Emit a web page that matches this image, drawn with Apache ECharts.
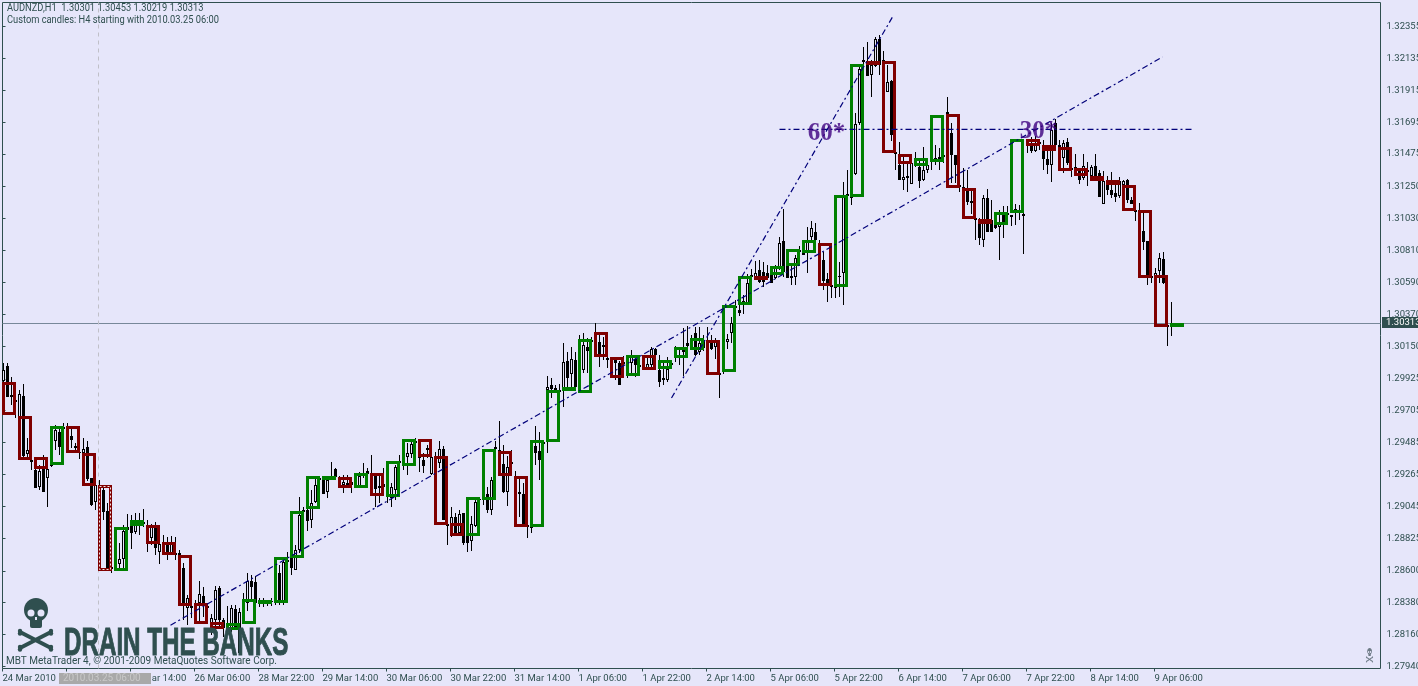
<!DOCTYPE html>
<html>
<head>
<meta charset="utf-8">
<title>AUDNZD,H1</title>
<style>
  html, body { margin: 0; padding: 0; background: #e6e6fa; }
  #chart { width: 1418px; height: 686px; }
</style>
</head>
<body>
<div id="chart"></div>
<script src="https://cdn.jsdelivr.net/npm/echarts@6/dist/echarts.min.js"></script>
<script>
// all prices are kept in 1e-5 units (130313 is 1.30313)
const h1Open = [
129909,130013,129813,129778,129612,129806,129405,129364,129295,129178,129302,129240,129323,129495,129557,129592,
129599,129530,129461,129419,129412,129454,129240,129074,129185,129157,129012,128626,128633,128646,128681,128881,
128950,128867,128950,128936,128902,128826,128902,128729,128777,128784,128722,128722,128722,128619,128343,128357,
128370,128377,128426,128357,128239,128260,128481,128260,128226,128205,128336,128032,128391,128377,128529,128522,
128398,128398,128391,128391,128398,128584,128384,128674,128695,128605,128743,129019,129019,128950,129074,129240,
129226,129143,129254,129302,129233,129191,129205,129212,129226,129185,129274,129288,129274,129254,129185,129198,
129129,129102,129157,129357,129336,129385,129405,129495,129392,129364,129447,129267,129392,129343,129440,128922,
128853,128971,128860,128998,128916,128805,128909,129095,129109,129129,129019,129454,129433,129336,129143,129350,
129254,129143,129129,128916,128902,129461,129426,129488,129847,129881,129861,129847,129861,130047,129957,130054,
130157,129985,130144,130192,130240,130178,130157,130068,130061,130054,130033,130040,130054,130033,130061,130020,
130054,129999,130020,130130,129985,129930,129916,130033,130075,130082,130123,130171,130178,130240,130109,130192,
130192,130178,130144,129964,129999,130178,130240,130427,130399,130433,130447,130640,130620,130675,130661,130654,
130661,130620,130689,130875,130709,130634,130627,130813,130813,130806,130903,130937,130861,130744,130613,130571,
130565,130634,130654,131199,131186,131337,131689,132124,132103,132021,132083,132269,132124,131903,131979,131489,
131400,131296,131324,131268,131434,131386,131296,131365,131434,131448,131455,131469,131765,131620,131469,131262,
131248,131241,131151,131034,130999,130882,131172,131020,130985,130972,131061,131068,131054,131096,131089,131061,
131565,131551,131496,131558,131524,131441,131400,131689,131538,131448,131558,131379,131386,131365,131310,131365,
131324,131393,131344,131130,131262,131227,131206,131186,131262,131296,131158,131089,131089,130944,130875,130634,
130627,130668,130751,130295,130301
];
const h1High = [
130033,130033,129937,129888,129847,129888,129516,129378,129323,129330,129399,129350,129350,129605,129585,129619,
129619,129599,129481,129433,129516,129495,129240,129226,129226,129185,129067,128674,128812,128791,128916,128991,
128985,128998,128998,129026,128950,128922,128936,128812,128846,128833,128840,128833,128743,128653,128433,128398,
128398,128529,128488,128377,128301,128495,128495,128274,128357,128364,128364,128343,128446,128584,128570,128564,
128412,128412,128398,128412,128433,128639,128674,128729,128709,128777,129109,129040,129053,129157,129254,129254,
129254,129240,129350,129309,129254,129261,129261,129247,129261,129281,129343,129309,129399,129274,129267,129309,
129157,129205,129330,129399,129378,129481,129488,129516,129433,129412,129468,129399,129419,129495,129461,128950,
129040,128998,129019,128998,128929,128977,129102,129109,129171,129178,129247,129495,129633,129468,129392,129433,
129288,129247,129205,128950,128916,129599,129557,129502,129944,129930,129881,129888,130171,130109,130144,130109,
130226,130240,130206,130213,130309,130247,130213,130075,130075,130068,130047,130082,130089,130123,130089,130082,
130089,130089,130144,130137,130089,130040,130075,130054,130151,130123,130275,130289,130226,130282,130282,130226,
130282,130226,130206,129985,130020,130233,130351,130468,130433,130502,130647,130682,130737,130744,130730,130709,
130675,130709,130903,131096,130751,130702,130778,130841,130861,130972,131013,130999,130882,130799,130654,130585,
130585,130730,131282,131365,131227,131758,132083,132214,132248,132124,132283,132297,132186,132090,131986,131641,
131558,131455,131413,131434,131489,131448,131524,131434,131448,131538,131517,131503,131869,131689,131469,131296,
131379,131365,131227,131117,131034,131193,131234,131158,131034,131089,131117,131117,131054,131130,131124,131068,
131572,131593,131600,131572,131572,131524,131689,131717,131572,131572,131586,131400,131475,131379,131475,131420,
131400,131475,131365,131358,131324,131351,131262,131317,131296,131303,131179,131103,131137,131075,130875,130661,
130689,130792,130799,130316,130453
];
const h1Low = [
129888,129799,129744,129654,129571,129378,129364,129295,129171,129157,129143,129040,129316,129433,129399,129530,
129502,129447,129412,129371,129399,129219,129047,129019,129143,128950,128598,128584,128598,128598,128605,128812,
128750,128853,128846,128902,128729,128777,128709,128646,128709,128674,128709,128674,128674,128260,128226,128274,
128274,128239,128281,128239,128157,128170,128205,128143,128170,128177,128191,128025,128239,128322,128398,128364,
128350,128350,128357,128357,128364,128364,128364,128626,128570,128605,128722,128950,128874,128895,129067,129026,
129129,129102,129240,129240,129185,129136,129171,129136,129171,129178,129240,129254,129261,129040,129067,129157,
129067,129040,129088,129316,129295,129261,129378,129433,129281,129274,129378,129261,129350,129309,128950,128777,
128833,128840,128846,128777,128729,128736,128902,129067,129053,128998,128985,129433,129350,129136,129047,129295,
129157,128971,128902,128826,128860,129330,129226,129419,129412,129792,129833,129778,129730,129861,129868,129854,
129826,129964,129964,130157,130192,130006,130054,129999,129999,129916,129881,129950,129930,129964,129937,129971,
129999,129985,129999,130040,129868,129881,129902,129999,130040,130020,129944,130123,130137,130082,130089,130116,
130157,130123,130061,129792,129957,130130,130171,130330,130358,130371,130433,130620,130606,130585,130558,130606,
130585,130613,130675,130627,130620,130572,130572,130730,130778,130654,130868,130827,130813,130537,130454,130482,
130482,130489,130433,131158,131124,131330,131676,132096,132014,131869,132076,132021,132090,131903,131565,131365,
131296,131227,131213,131268,131386,131241,131289,131344,131365,131400,131365,131413,131724,131275,131275,131213,
131193,131124,131061,130882,130848,130834,130937,130937,130958,130744,130896,130985,130979,130985,131020,130785,
131482,131482,131489,131503,131365,131337,131282,131531,131489,131344,131400,131317,131351,131268,131296,131255,
131317,131310,131179,131130,131193,131172,131144,131172,131227,131137,131130,131013,131054,130813,130571,130585,
130606,130585,130578,130151,130219
];
const h1Close = [
129985,129799,129799,129764,129819,129392,129433,129350,129171,129288,129143,129302,129336,129571,129454,129578,
129585,129502,129447,129412,129440,129233,129054,129191,129171,129005,128605,128612,128612,128681,128874,128902,
128860,128950,128909,128922,128791,128902,128757,128784,128764,128709,128791,128709,128709,128357,128412,128343,
128357,128439,128377,128343,128274,128467,128260,128205,128212,128343,128205,128315,128357,128529,128488,128377,
128384,128384,128377,128384,128384,128384,128660,128660,128619,128743,128985,129005,128943,129067,129191,129226,
129129,129226,129247,129247,129219,129212,129191,129191,129212,129254,129261,129267,129261,129164,129171,129178,
129116,129178,129316,129343,129323,129412,129474,129481,129378,129323,129433,129385,129378,129440,128950,128909,
128971,128853,128991,128791,128791,128922,129074,129088,129095,129019,129226,129440,129419,129143,129316,129336,
129240,129129,128916,128902,128895,129412,129364,129474,129868,129854,129847,129833,130040,129930,130061,129868,
130137,130157,130116,130178,130226,130095,130144,130054,130047,130033,129881,130026,130040,130075,130020,130006,
130040,130026,130130,130089,129902,129916,129992,130020,130068,130068,130109,130151,130164,130089,130171,130137,
130178,130130,130192,129950,129978,130199,130309,130413,130378,130461,130585,130627,130654,130592,130592,130620,
130585,130689,130861,130661,130620,130620,130758,130799,130778,130875,130965,130882,130847,130599,130585,130558,
130551,130627,131179,131186,131172,131682,132062,132110,132014,132090,132269,132090,132110,131972,131607,131475,
131296,131317,131310,131413,131420,131289,131365,131400,131420,131434,131441,131455,131751,131469,131400,131248,
131234,131144,131137,131020,130896,131172,130937,130937,130965,130999,130992,131054,131041,131082,131075,131048,
131551,131496,131544,131544,131441,131400,131641,131538,131524,131551,131413,131365,131372,131296,131393,131351,
131386,131324,131179,131289,131227,131193,131179,131289,131289,131158,131130,131075,131075,130868,130627,130620,
130654,130758,130585,130282,130313
];

const h4Open = [
129902,129668,129385,129330,129599,129412,129192,128598,128909,128916,128798,128709,128377,128246,128191,128232,
128377,128377,128688,129026,129240,129247,129171,129274,129109,129323,129509,129392,128929,128840,129088,129426,
129254,128902,129488,129840,129826,130247,130075,129944,130089,129992,130068,130123,130192,129971,130433,130637,
130640,130703,130792,130861,130558,131179,132117,132117,131475,131393,131420,131751,131241,131027,130985,131068,
131579,131538,131524,131379,131324,131296,131262,131089,130640,130289
];
const h4Close = [
129674,129364,129302,129599,129412,129185,128598,128902,128950,128784,128709,128357,128232,128198,128239,128405,
128398,128695,129012,129254,129254,129171,129274,129116,129357,129509,129385,128916,128840,129109,129440,129254,
128902,129502,129847,129868,130199,130075,129930,130089,129985,130054,130144,130206,129950,130433,130634,130627,
130703,130820,130882,130565,131192,132096,132096,131482,131406,131448,131745,131241,131027,130992,131075,131579,
131531,131496,131358,131324,131289,131262,131082,130620,130282,130309
];
const dottedH4Index = 6;

// [bar index, price] ends of the hand drawn lines
const trendSteep = [[167.25, 129792], [222.5, 132421]];
const trendLong = [[42, 128225], [290, 132145]];
const levelLine = [[194.25, 131645], [298, 131645]];
const angleLabels = [['60*', 206, 131620], ['30*', 259, 131630]];
const periodSeparatorBar = 24;

const priceMin = 127926;
const priceMax = 132521;
const lastPrice = 130313;
const xTickBars = [0, 16, 32, 48, 64, 80, 96, 112, 128, 144, 160, 176, 192, 208, 224, 240, 256, 272, 288];
const xTickLabels = ['24 Mar 2010', '24 Mar 22:00', '25 Mar 14:00', '26 Mar 06:00', '28 Mar 22:00', '29 Mar 14:00',
    '30 Mar 06:00', '30 Mar 22:00', '31 Mar 14:00', '1 Apr 06:00', '1 Apr 22:00', '2 Apr 14:00', '5 Apr 06:00',
    '5 Apr 22:00', '6 Apr 14:00', '7 Apr 06:00', '7 Apr 22:00', '8 Apr 14:00', '9 Apr 06:00'];
const yTickValues = [132355, 132135, 131915, 131695, 131475, 131250, 131030, 130810, 130590, 130370, 130150,
    129925, 129705, 129485, 129265, 129045, 128825, 128600, 128380, 128160, 127940];

const bg = '#e6e6fa';
const frameColor = '#2f4f4f';
const upColor = '#008000';
const downColor = '#800000';
const lineColor = '#00007a';
const uiFont = 'Roboto, "Noto Sans", sans-serif';

const snap = v => Math.floor(v + 0.5 + 1e-6);

function renderH1 (params, api) {
    const k = api.value(0)
    const o = api.value(1)
    const c = api.value(4)
    const x = snap(api.coord([k, o])[0])
    const yHigh = snap(api.coord([k, api.value(2)])[1])
    const yLow = snap(api.coord([k, api.value(3)])[1])
    const yTop = snap(api.coord([k, Math.max(o, c)])[1])
    const yBot = snap(api.coord([k, Math.min(o, c)])[1])
    const h = Math.max(yBot - yTop, 1)
    const black = { fill: '#000' }
    const children = [
        { type: 'rect', shape: { x: x, y: yHigh, width: 1, height: Math.max(yLow - yHigh, 1) }, style: black },
        { type: 'rect', shape: { x: x - 1, y: yTop, width: 3, height: h }, style: black }
    ]
    if (c > o && h > 2) {
        children.push({ type: 'rect', shape: { x: x, y: yTop + 1, width: 1, height: h - 2 }, style: { fill: bg } })
    }
    return { type: 'group', children: children }
}

function renderH4 (params, api) {
    const k = api.value(0)
    const o = api.value(1)
    const c = api.value(2)
    const x = snap(api.coord([k, o])[0]) + 0.5
    const w = api.size([3, 0])[0] - 1
    const yTop = snap(api.coord([k, Math.max(o, c)])[1]) + 1.5
    const yBot = snap(api.coord([k, Math.min(o, c)])[1]) - 1.5
    const shape = { x: x, y: yTop, width: w, height: Math.max(yBot - yTop, 1) }
    const children = [
        { type: 'rect', shape: shape, style: { fill: 'none', stroke: c >= o ? upColor : downColor, lineWidth: 3 } }
    ]
    if (k / 4 === dottedH4Index) {
        children.push({ type: 'rect', shape: shape, style: { fill: 'none', stroke: '#f0e6e6', lineWidth: 1, lineDash: [2, 2] } })
    }
    return { type: 'group', children: children }
}

function renderPriceLine (params, api) {
    const y = snap(api.coord([0, api.value(0)])[1])
    const x0 = params.coordSys.x
    return { type: 'rect', shape: { x: x0, y: y, width: params.coordSys.width, height: 1 }, style: { fill: '#778899' } }
}

function dashLine (data, name) {
    return {
        type: 'line',
        name: name,
        data: data,
        symbol: 'none',
        silent: true,
        z: 5,
        lineStyle: { color: lineColor, width: 1.2, type: [6, 3, 2, 3] }
    }
}

// the skull logo, drawn around its own top left corner
function skull (x, y, sx, sy, color) {
    const bones = [[0, 34, 35, 50], [0, 50, 35, 34]]
    const children = []
    bones.forEach(b => {
        children.push({ type: 'line', shape: { x1: b[0] + 2, y1: b[1], x2: b[2] - 2, y2: b[3] }, style: { stroke: color, lineWidth: 4 } })
        children.push({ type: 'circle', shape: { cx: b[0] + 2, cy: b[1] - 1, r: 2.2 }, style: { fill: color } })
        children.push({ type: 'circle', shape: { cx: b[0] + 2, cy: b[1] + 1.5, r: 2.2 }, style: { fill: color } })
        children.push({ type: 'circle', shape: { cx: b[2] - 2, cy: b[3] - 1, r: 2.2 }, style: { fill: color } })
        children.push({ type: 'circle', shape: { cx: b[2] - 2, cy: b[3] + 1.5, r: 2.2 }, style: { fill: color } })
    })
    children.push({ type: 'ellipse', shape: { cx: 18, cy: 12, rx: 12, ry: 12 }, style: { fill: color } })
    children.push({ type: 'rect', shape: { x: 12, y: 20, width: 12, height: 10, r: 2 }, style: { fill: color } })
    children.push({ type: 'circle', shape: { cx: 13, cy: 15, r: 3.5 }, style: { fill: bg } })
    children.push({ type: 'circle', shape: { cx: 23, cy: 15, r: 3.5 }, style: { fill: bg } })
    children.push({ type: 'rect', shape: { x: 17, y: 19, width: 2, height: 3 }, style: { fill: bg } })
    return { type: 'group', x: x, y: y, scaleX: sx, scaleY: sy, z: 10, silent: true, children: children }
}

function label (text, x, y, fill, font, z, scaleX) {
    return {
        type: 'text',
        x: x,
        y: y,
        z: z || 10,
        scaleX: scaleX || 1,
        silent: true,
        style: { text: text, fill: fill, font: font, textVerticalAlign: 'middle', textAlign: 'left' }
    }
}

const myChart = echarts.init(document.getElementById('chart'), null, { renderer: 'canvas' })

const option = {
    animation: false,
    backgroundColor: bg,
    grid: {
        show: true,
        left: 2.5,
        top: 2.5,
        right: 37.5,
        bottom: 17.5,
        outerBoundsMode: 'none',
        backgroundColor: 'transparent',
        borderColor: frameColor,
        borderWidth: 1
    },
    xAxis: {
        type: 'value',
        min: 0,
        max: 344.5,
        splitLine: { show: false },
        axisLine: { show: false },
        axisTick: { length: 3, customValues: xTickBars, lineStyle: { color: frameColor } },
        axisLabel: {
            customValues: xTickBars,
            margin: 5,
            align: 'left',
            color: frameColor,
            fontFamily: uiFont,
            fontSize: 9.5,
            formatter: function (v) {
                return xTickLabels[xTickBars.indexOf(v)]
            }
        }
    },
    yAxis: {
        type: 'value',
        position: 'right',
        min: priceMin,
        max: priceMax,
        splitLine: { show: false },
        axisLine: { show: false },
        axisTick: { length: 3, customValues: yTickValues, lineStyle: { color: frameColor } },
        axisLabel: {
            customValues: yTickValues,
            margin: 6,
            color: frameColor,
            fontFamily: uiFont,
            fontSize: 9.5,
            formatter: function (v) {
                return (v / 1e5).toFixed(5)
            }
        }
    },
    series: [
        {
            type: 'line',
            name: 'separator',
            data: [[periodSeparatorBar, priceMin], [periodSeparatorBar, priceMax]],
            symbol: 'none',
            silent: true,
            z: 1,
            lineStyle: { color: '#c0c0c8', width: 1, type: [4, 4] }
        },
        {
            type: 'custom',
            name: 'last',
            renderItem: renderPriceLine,
            data: [[lastPrice]],
            encode: { y: 0 },
            silent: true,
            z: 1
        },
        {
            type: 'custom',
            name: 'H1',
            renderItem: renderH1,
            data: h1Open.map((o, k) => [k, o, h1High[k], h1Low[k], h1Close[k]]),
            encode: { x: 0, y: [1, 2, 3, 4] },
            silent: true,
            z: 3
        },
        {
            type: 'custom',
            name: 'H4',
            renderItem: renderH4,
            data: h4Open.map((o, i) => [i * 4, o, h4Close[i]]),
            encode: { x: 0, y: [1, 2] },
            silent: true,
            z: 4
        },
        dashLine(trendSteep, 'steep'),
        dashLine(trendLong, 'long'),
        dashLine(levelLine, 'level'),
        {
            type: 'scatter',
            name: 'angles',
            data: angleLabels.map(a => ({ value: [a[1], a[2]], label: { formatter: a[0] } })),
            symbolSize: 0,
            silent: true,
            z: 6,
            label: {
                show: true,
                position: 'inside',
                color: '#3d0080',
                fontFamily: '"Liberation Serif", serif',
                fontWeight: 'bold',
                fontSize: 25
            }
        }
    ],
    graphic: [
        label('AUDNZD,H1  1.30301 1.30453 1.30219 1.30313', 7, 8, frameColor, '10px ' + uiFont, 10, 0.93),
        label('Custom candles: H4 starting with 2010.03.25 06:00', 7, 20, frameColor, '10px ' + uiFont, 10, 0.93),
        skull(18, 598, 1, 1, frameColor),
        skull(1366, 648, 0.2, 0.27, '#6e7b86'),
        {
            type: 'text',
            x: 64,
            y: 644.5,
            scaleX: 0.62,
            z: 10,
            silent: true,
            style: {
                text: 'DRAIN THE BANKS',
                fill: frameColor,
                stroke: frameColor,
                lineWidth: 1,
                font: 'bold 39px "Liberation Sans"',
                textVerticalAlign: 'middle',
                textAlign: 'left'
            }
        },
        label('MBT MetaTrader 4, \u00a9 2001-2009 MetaQuotes Software Corp.', 6, 661, frameColor, '10px ' + uiFont, 11),
        { type: 'rect', x: 59, y: 673, z: 12, silent: true, shape: { width: 92, height: 11 }, style: { fill: '#a9a9a9' } },
        label('2010.03.25 06:00', 63, 678.5, '#c8c8c8', '10px ' + uiFont, 13),
        { type: 'rect', x: 1382, y: 317, z: 12, silent: true, shape: { width: 36, height: 11 }, style: { fill: frameColor } },
        label((lastPrice / 1e5).toFixed(5), 1386, 323, '#fff', '9.5px ' + uiFont, 13)
    ]
}

myChart.setOption(option)
</script>
</body>
</html>
